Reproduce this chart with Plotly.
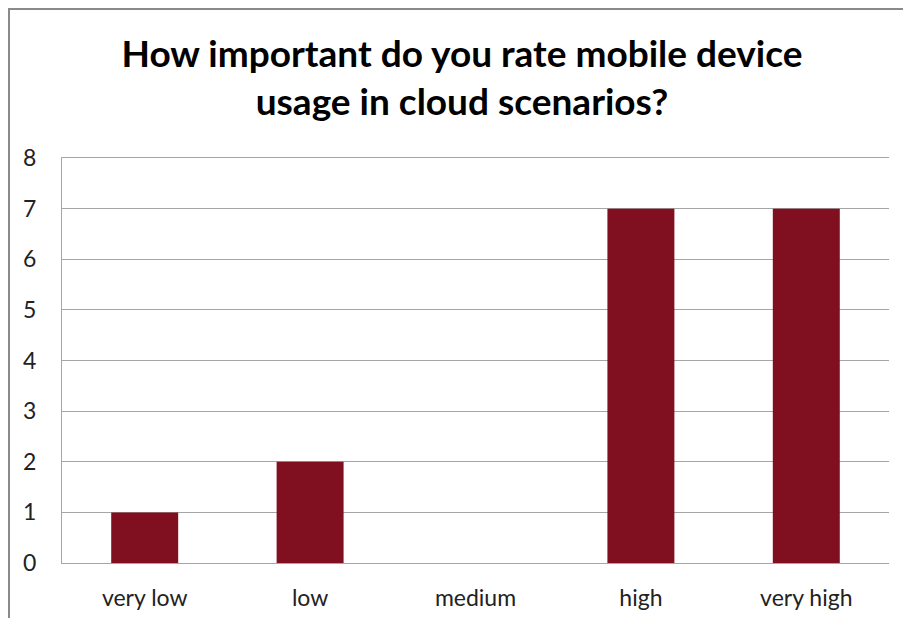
import plotly.graph_objects as go

categories = ["very low", "low", "medium", "high", "very high"]
counts = [1, 2, 0, 7, 7]
y_ticks = [0, 1, 2, 3, 4, 5, 6, 7, 8]

W, H = 903, 618
L, R, T, B = 62, 14, 158, 55
pw, ph = W - L - R, H - T - B

def px_x(x):
    return (x - L) / pw

def px_y(y):
    return (H - B - y) / ph

fig = go.Figure()
fig.add_trace(go.Bar(
    x=categories, y=counts,
    marker=dict(color="#80101f", line=dict(width=0)),
    width=0.405,
))

fig.update_layout(
    width=W, height=H,
    margin=dict(l=L, r=R, t=T, b=B),
    paper_bgcolor="white", plot_bgcolor="white",
    showlegend=False,
    font=dict(family="Lato, Open Sans, sans-serif", color="#222222"),
    title=dict(
        text="How important do you rate mobile device<br>usage in cloud scenarios?",
        font=dict(family="Lato, Open Sans, sans-serif", size=37, color="#000000", weight="bold"),
        x=462 / W, xanchor="center",
        yref="container", y=1 - 67 / H, yanchor="top",
    ),
)
fig.update_xaxes(
    tickfont=dict(size=23, color="#222222"),
    showgrid=False, showline=True, mirror=True, linecolor="#a6a6a6", linewidth=1,
    ticks="", automargin=False,
    ticklabelstandoff=14,
)
fig.update_yaxes(
    range=[0, 8], tickvals=y_ticks,
    tickfont=dict(size=23, color="#222222"),
    showgrid=True, gridcolor="#a6a6a6", gridwidth=1,
    showline=True, linecolor="#a6a6a6", linewidth=1,
    zeroline=False, ticks="", automargin=False,
    ticklabelstandoff=20,
)
# outer chart frame (extends past the right and bottom edges as in the reference)
fig.add_shape(type="rect", xref="paper", yref="paper",
              x0=px_x(9), x1=px_x(W + 20), y0=px_y(H + 20), y1=px_y(9),
              line=dict(color="#8a8a8a", width=2), layer="below")

fig.write_html("out.html")
